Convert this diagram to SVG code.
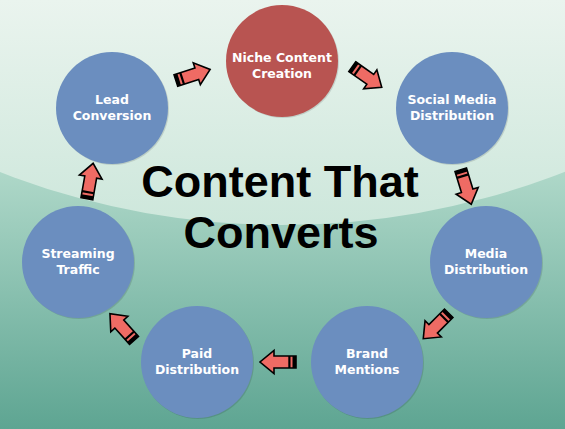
<svg xmlns="http://www.w3.org/2000/svg" width="565" height="429" viewBox="0 0 565 429">
<defs>
<linearGradient id="bgTop" x1="0" y1="0" x2="0" y2="1">
<stop offset="0" stop-color="#eef6f1"/>
<stop offset="1" stop-color="#d2e8dc"/>
</linearGradient>
<linearGradient id="bgBot" gradientUnits="userSpaceOnUse" x1="0" y1="160" x2="0" y2="429">
<stop offset="0" stop-color="#b2dacb"/>
<stop offset="1" stop-color="#5ea592"/>
</linearGradient>
<linearGradient id="bgGlow" gradientUnits="userSpaceOnUse" x1="0" y1="0" x2="0" y2="240">
<stop offset="0" stop-color="#eaf4ee"/>
<stop offset="1" stop-color="#cbe6da"/>
</linearGradient>
<g id="arrow">
<path d="M-18,-6 L4,-6 L4,-11.5 L18,0 L4,11.5 L4,6 L-18,6 Z" fill="#ef6b64" stroke="#000" stroke-width="1.6" stroke-linejoin="miter"/>
<rect x="-18" y="-6" width="3.5" height="12" fill="#000"/>
<rect x="-12.5" y="-6" width="2.2" height="12" fill="#000"/>
</g>
</defs>
<style>
.node circle.b{fill:#6b8ebf}
.node circle.r{fill:#b85451}
.node circle.s{fill:#000;opacity:0.12}
.node text{font-family:"DejaVu Sans",Verdana,sans-serif;font-weight:bold;font-size:12.5px;fill:#fff;text-anchor:middle}
.title{font-family:"Liberation Sans",Arial,sans-serif;font-weight:bold;font-size:45px;fill:#000;text-anchor:middle}
</style>
<rect x="0" y="0" width="565" height="429" fill="url(#bgBot)"/>
<ellipse cx="282" cy="-400" rx="700" ry="625" fill="url(#bgGlow)"/>

<g id="node-niche" class="node">
<circle class="s" cx="283" cy="62" r="56"/>
<circle class="r" cx="282" cy="61" r="56"/>
<text x="282" y="62">Niche Content</text>
<text x="282" y="78">Creation</text>
</g>
<g id="node-social" class="node">
<circle class="s" cx="453" cy="109" r="56"/>
<circle class="b" cx="452" cy="108" r="56"/>
<text x="452" y="104">Social Media</text>
<text x="452" y="120">Distribution</text>
</g>
<g id="node-media" class="node">
<circle class="s" cx="487" cy="263" r="56"/>
<circle class="b" cx="486" cy="262" r="56"/>
<text x="486" y="258">Media</text>
<text x="486" y="274">Distribution</text>
</g>
<g id="node-brand" class="node">
<circle class="s" cx="368" cy="363" r="56"/>
<circle class="b" cx="367" cy="362" r="56"/>
<text x="367" y="358">Brand</text>
<text x="367" y="374">Mentions</text>
</g>
<g id="node-paid" class="node">
<circle class="s" cx="198" cy="363" r="56"/>
<circle class="b" cx="197" cy="362" r="56"/>
<text x="197" y="358">Paid</text>
<text x="197" y="374">Distribution</text>
</g>
<g id="node-streaming" class="node">
<circle class="s" cx="79" cy="263" r="56"/>
<circle class="b" cx="78" cy="262" r="56"/>
<text x="78" y="258">Streaming</text>
<text x="78" y="274">Traffic</text>
</g>
<g id="node-lead" class="node">
<circle class="s" cx="113" cy="109" r="56"/>
<circle class="b" cx="112" cy="108" r="56"/>
<text x="112" y="104">Lead</text>
<text x="112" y="120">Conversion</text>
</g>

<g id="connectors">
<use href="#arrow" transform="translate(193,75) rotate(-18)"/>
<use href="#arrow" transform="translate(367,77) rotate(35)"/>
<use href="#arrow" transform="translate(466,187) rotate(73)"/>
<use href="#arrow" transform="translate(436,326) rotate(135)"/>
<use href="#arrow" transform="translate(278,362) rotate(180)"/>
<use href="#arrow" transform="translate(122,327) rotate(228)"/>
<use href="#arrow" transform="translate(90,181) rotate(-80)"/>
</g>

<text class="title" x="280" y="197">Content That</text>
<text class="title" x="281" y="248">Converts</text>
</svg>
